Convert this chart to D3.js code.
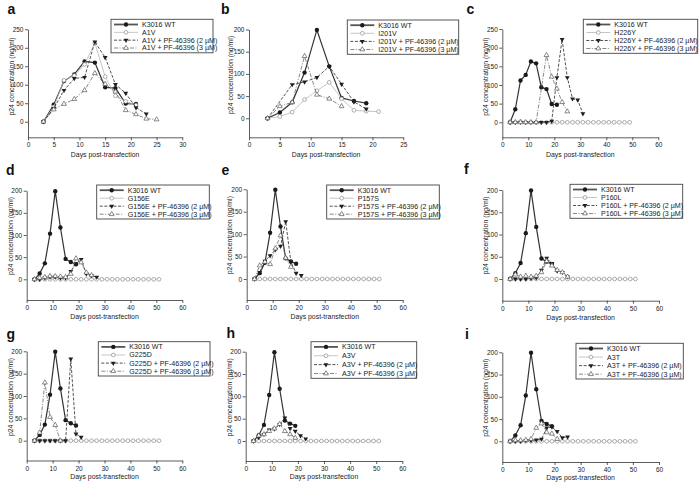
<!DOCTYPE html>
<html><head><meta charset="utf-8">
<script src="https://cdn.jsdelivr.net/npm/d3@7"></script>
<style>
html,body{margin:0;padding:0;background:#fff;}
svg text{font-family:"Liberation Sans",Arial,sans-serif;}
</style></head>
<body>
<svg id="chart" width="700" height="482"></svg>
<script>
// ---------------- DATA ----------------
const mutantNames = ["A1V","I201V","H226Y","G156E","P157S","P160L","G225D","A3V","A3T"];
const panelLetters = ["a","b","c","d","e","f","g","h","i"];
const wtLabel = "K3016 WT";
const drug2Suffix = " + PF-46396 (2 \u00B5M)";
const drug3Suffix = " + PF-46396 (3 \u00B5M)";

const xTicks30 = [0,5,10,15,20,25,30];
const xTicks25 = [0,5,10,15,20,25];
const xTicks60 = [0,10,20,30,40,50,60];
const yTicks250 = [0,50,100,150,200,250];
const yTicks200 = [0,50,100,150,200];

// shared WT (panels b, d-i)
const wtDays = [3,5,7,9,11,13,15,17,19];
const wtVals = [0,13,36,103,199,117,46,39,34];
// panel a WT
const wtDaysA = [3,5,7,9,11,13,15,17,19,21];
const wtValsA = [0,46,110,128,163,160,93,91,49,48];
// panel c WT
const wtDaysC = [3,5,7,9,11,13,15,17,19,21];
const wtValsC = [0,35,112,127,163,158,94,89,49,47];

// long zero-series day lists
const days3to49 = [3,5,7,9,11,13,15,17,19,21,23,25,27,29,31,33,35,37,39,41,43,45,47,49];
const days3to51 = [3,5,7,9,11,13,15,17,19,21,23,25,27,29,31,33,35,37,39,41,43,45,47,49,51];
const zeros24 = [0,0,2,0,0,0,0,0,0,0,0,0,0,0,0,0,0,0,0,0,0,0,0,0];
const zeros25 = [0,0,0,0,0,0,0,0,0,0,0,0,0,0,0,0,0,0,0,0,0,0,0,0,0];

// panel a (A1V)
const aMutDays = [3,5,7,9,11,13,15,17,19,21];
const aMutVals = [0,40,112,125,155,213,122,70,55,45];
const aD2Days = [3,5,7,9,11,13,15,17,19,21,23];
const aD2Vals = [0,36,85,117,120,216,174,101,77,38,21];
const aD3Days = [3,5,7,9,11,13,15,17,19,21,23,25];
const aD3Vals = [0,33,48,61,85,131,102,81,31,20,8,6];

// panel b (I201V)
const bMutDays = [3,5,7,9,11,13,15,17,19,21];
const bMutVals = [0,4,14,42,62,81,44,18,16,15];
const bD2Days = [3,7,9,11,13,15,17,19];
const bD2Vals = [0,76,82,92,117,77,37,21];
const bD3Days = [3,5,7,9,11,13,15];
const bD3Vals = [0,27,36,140,53,44,27];

// panel c (H226Y)
const cD2Days = [3,5,7,9,11,13,15,17,19,21,23,25,27,29,31];
const cD2Vals = [0,0,0,0,0,0,0,0,3,120,222,120,63,60,23];
const cD3Days = [3,5,7,9,11,13,17,19,21,23,25];
const cD3Vals = [0,0,0,0,0,0,180,122,90,54,29];

// panel d (G156E)
const dD2Days = [3,5,7,9,11,13,15,17,19,21,23,25,27];
const dD2Vals = [0,0,3,5,5,3,3,18,35,45,12,8,5];
const dD3Days = [3,5,7,9,11,13,15,17,19,21,23,25];
const dD3Vals = [0,3,5,7,7,6,5,12,47,38,15,9];

// panel e (P157S)
const eD2Days = [3,5,7,9,11,13,15,17,19,21];
const eD2Vals = [0,15,40,52,65,73,128,38,13,8];
const eD3Days = [3,5,7,9,11,13,15,17];
const eD3Vals = [0,30,38,33,68,97,47,27];

// panel f (P160L)
const fD2Days = [3,5,7,9,11,13,15,17,19,21,23,25];
const fD2Vals = [0,0,0,0,2,3,20,47,35,18,15,5];
const fD3Days = [3,5,7,9,11,13,15,17,19,21,23,25];
const fD3Vals = [0,10,5,7,5,7,15,40,30,20,15,5];

// panel g (G225D)
const gD2Days = [3,5,7,9,11,13,15,17,19,21];
const gD2Vals = [0,0,0,0,0,0,0,183,15,8];
const gD3Days = [3,5,7,9,11,13];
const gD3Vals = [0,18,130,53,35,0];

// panel h (A3V)
const hD2Days = [3,5,7,9,11,13,15,17,19,21,23];
const hD2Vals = [0,8,15,25,27,37,52,28,22,12,5];
const hD3Days = [3,5,7,9,11,13,15,17,19];
const hD3Vals = [0,12,15,22,28,38,22,15,7];

// panel i (A3T)
const iD2Days = [3,5,7,9,11,13,15,17,19,21,23,25];
const iD2Vals = [0,0,0,2,2,3,5,30,32,22,8,10];
const iD3Days = [3,5,7,9,11,13,15,17,19,21];
const iD3Vals = [0,2,2,3,5,30,40,20,17,5];

// ---------------- LAYOUT (pixels) ----------------
const layout = [
  {x0:28,   x1:182.3, xMax:30, xt:xTicks30, y0:121.7, yTop:29.3, yMax:250, yt:yTicks250, axisY:137.3, leg:[111,19.3,102,33.5],  let:[7.5,14],   ytx:11.5, tb:156.8},
  {x0:249,  x1:403.3, xMax:25, xt:xTicks25, y0:118.3, yTop:29.5, yMax:200, yt:yTicks200, axisY:137.3, leg:[347.3,20,111.4,34.3], let:[221,14],   ytx:231,  tb:156.8},
  {x0:502.3,x1:658.3, xMax:60, xt:xTicks60, y0:122.3, yTop:29,   yMax:250, yt:yTicks250, axisY:137.3, leg:[583.3,19.3,114.4,34], let:[466.5,14], ytx:486,  tb:156.8},
  {x0:26.7, x1:182.3, xMax:60, xt:xTicks60, y0:279.3, yTop:190.7,yMax:200, yt:yTicks200, axisY:300,   leg:[96.7,185,112.6,34],   let:[6,175],    ytx:10.5, tb:319},
  {x0:246.7,x1:402.7, xMax:60, xt:xTicks60, y0:279,   yTop:189.3,yMax:200, yt:yTicks200, axisY:300,   leg:[326.7,185,112.6,34],  let:[221.5,175],ytx:230,  tb:319},
  {x0:502.3,x1:659,   xMax:60, xt:xTicks60, y0:279,   yTop:190,  yMax:200, yt:yTicks200, axisY:300.7, leg:[570,184.3,112.7,34],  let:[464,174],  ytx:486,  tb:319.5},
  {x0:26.7, x1:182.3, xMax:60, xt:xTicks60, y0:440.7, yTop:351.3,yMax:200, yt:yTicks200, axisY:460.5, leg:[98.3,341.7,111.7,34.3],let:[6.5,339], ytx:10.5, tb:479},
  {x0:245.7,x1:402.3, xMax:60, xt:xTicks60, y0:441,   yTop:351.7,yMax:200, yt:yTicks200, axisY:461,   leg:[311,341.7,105.7,36.6],let:[226.5,338],ytx:229.5,tb:479},
  {x0:502.3,x1:659,   xMax:60, xt:xTicks60, y0:441.3, yTop:352.3,yMax:200, yt:yTicks200, axisY:462,   leg:[576,343.3,107.3,35.7],let:[465,339],  ytx:486,  tb:479.5}
];

const panelSeries = [
  [[wtDaysA,wtValsA],[aMutDays,aMutVals],[aD2Days,aD2Vals],[aD3Days,aD3Vals]],
  [[wtDays,wtVals],[bMutDays,bMutVals],[bD2Days,bD2Vals],[bD3Days,bD3Vals]],
  [[wtDaysC,wtValsC],[days3to49,zeros24],[cD2Days,cD2Vals],[cD3Days,cD3Vals]],
  [[wtDays,wtVals],[days3to51,zeros25],[dD2Days,dD2Vals],[dD3Days,dD3Vals]],
  [[wtDays,wtVals],[days3to51,zeros25],[eD2Days,eD2Vals],[eD3Days,eD3Vals]],
  [[wtDays,wtVals],[days3to51,zeros25],[fD2Days,fD2Vals],[fD3Days,fD3Vals]],
  [[wtDays,wtVals],[days3to51,zeros25],[gD2Days,gD2Vals],[gD3Days,gD3Vals]],
  [[wtDays,wtVals],[days3to51,zeros25],[hD2Days,hD2Vals],[hD3Days,hD3Vals]],
  [[wtDays,wtVals],[days3to51,zeros25],[iD2Days,iD2Vals],[iD3Days,iD3Vals]]
];

// series styles: WT, mutant, +2uM, +3uM
const styles = [
  {stroke:"#333333", w:1.2, dash:null,          mk:"circle",  fill:"#1a1a1a", mstroke:"none",    sz:15},
  {stroke:"#b8b8b8", w:0.8, dash:null,          mk:"circle",  fill:"#ffffff", mstroke:"#8c8c8c", sz:11},
  {stroke:"#333333", w:0.85,dash:"3,1.6",       mk:"down",    fill:"#1f1f1f", mstroke:"none",    sz:10},
  {stroke:"#6a6a6a", w:0.8, dash:"4,1.5,1,1.5", mk:"up",      fill:"#ffffff", mstroke:"#5a5a5a", sz:10}
];

// ---------------- DRAW ----------------
const svg = d3.select("#chart");
const TFS = 6.5;   // tick font
const AFS = 6.9;   // axis title font
const LFS = 7.1;   // legend font

function symbolPath(st){
  const t = st.mk === "circle" ? d3.symbolCircle : d3.symbolTriangle;
  return d3.symbol().type(t).size(st.sz)();
}
function drawMarker(sel, st, cx, cy){
  sel.append("path").attr("d", symbolPath(st))
    .attr("transform", `translate(${cx},${cy})` + (st.mk === "down" ? " rotate(180)" : ""))
    .attr("fill", st.fill).attr("stroke", st.mstroke).attr("stroke-width", 0.7);
}

layout.forEach((p, idx) => {
  const g = svg.append("g");
  const x = d3.scaleLinear().domain([0, p.xMax]).range([p.x0, p.x1]);
  const yK = (p.y0 - p.yTop) / p.yMax;
  const yMin = -(p.axisY - p.y0) / yK;
  const y = d3.scaleLinear().domain([yMin, p.yMax]).range([p.axisY, p.yTop]);

  const xa = g.append("g").attr("transform", `translate(0,${p.axisY})`)
    .call(d3.axisBottom(x).tickValues(p.xt).tickSize(3).tickSizeOuter(0).tickPadding(2.5));
  const ya = g.append("g").attr("transform", `translate(${p.x0},0)`)
    .call(d3.axisLeft(y).tickValues(p.yt).tickSize(3).tickSizeOuter(0).tickPadding(1.5));
  [xa, ya].forEach(a => {
    a.selectAll("path,line").attr("stroke", "#333").attr("stroke-width", 0.8);
    a.selectAll("text").attr("font-size", TFS).attr("fill", "#222")
      .attr("font-family", "'Liberation Sans',Arial,sans-serif");
  });

  g.append("text").attr("x", (p.x0 + p.x1) / 2).attr("y", p.tb)
    .attr("text-anchor", "middle").attr("font-size", AFS).attr("fill", "#222")
    .text("Days post-transfection");
  g.append("text")
    .attr("transform", `translate(${p.ytx},${(p.yTop + p.y0) / 2 + 1}) rotate(-90)`)
    .attr("text-anchor", "middle").attr("dy", "0.35em").attr("font-size", AFS).attr("fill", "#222")
    .text("p24 concentration (ng/ml)");
  g.append("text").attr("x", p.let[0]).attr("y", p.let[1])
    .attr("font-size", 14).attr("font-weight", "bold").attr("fill", "#111")
    .text(panelLetters[idx]);

  const line = d3.line().x(d => x(d[0])).y(d => y(d[1]));
  panelSeries[idx].forEach((s, si) => {
    const st = styles[si];
    const pts = d3.zip(s[0], s[1]);
    g.append("path").attr("d", line(pts)).attr("fill", "none")
      .attr("stroke", st.stroke).attr("stroke-width", st.w)
      .attr("stroke-dasharray", st.dash);
    const mg = g.append("g");
    pts.forEach(d => drawMarker(mg, st, x(d[0]), y(d[1])));
  });

  // legend
  const [lx, ly, lw, lh] = p.leg;
  const lg = g.append("g");
  lg.append("rect").attr("x", lx).attr("y", ly).attr("width", lw).attr("height", lh)
    .attr("fill", "#fff").attr("stroke", "#444").attr("stroke-width", 0.9);
  const labels = [wtLabel, mutantNames[idx], mutantNames[idx] + drug2Suffix, mutantNames[idx] + drug3Suffix];
  const step = (lh - 10) / 3;
  labels.forEach((lab, li) => {
    const st = styles[li];
    const cy = ly + 5.2 + li * step;
    lg.append("line").attr("x1", lx + 3).attr("x2", lx + 27).attr("y1", cy).attr("y2", cy)
      .attr("stroke", li === 0 ? "#555" : st.stroke).attr("stroke-width", li === 0 ? 1.8 : st.w)
      .attr("stroke-dasharray", st.dash);
    drawMarker(lg, st, lx + 15, cy);
    lg.append("text").attr("x", lx + 31).attr("y", cy).attr("dy", "0.35em")
      .attr("font-size", LFS).attr("fill", "#222").text(lab);
  });
});
</script>
</body></html>
